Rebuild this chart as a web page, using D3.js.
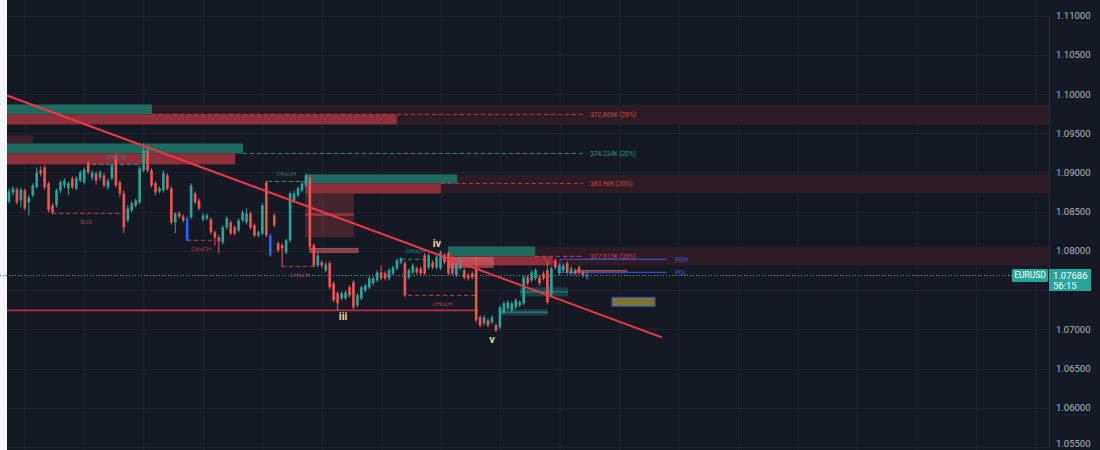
<!DOCTYPE html>
<html><head><meta charset="utf-8">
<script src="https://cdn.jsdelivr.net/npm/d3@7"></script>
<style>html,body{margin:0;padding:0;background:#151924;}svg{display:block;font-family:Roboto,"Noto Sans",sans-serif;}</style>
</head><body>
<svg id="chart" width="1100" height="450"></svg>
<script>
// ---------- DATA ----------
const symbol = "EURUSD";
const lastPrice = 1.07686;
const countdown = "56:15";
const priceTicks = [1.11,1.105,1.10,1.095,1.09,1.085,1.08,1.075,1.07,1.065,1.06,1.055];
const shownTicks = [1.11,1.105,1.10,1.095,1.09,1.085,1.08,1.07,1.065,1.06,1.055];

const open = [1.08631,1.08745,1.08783,1.08643,1.08771,1.08618,1.08707,1.08809,1.09025,1.09064,
1.08860,1.08580,1.08580,1.08771,1.08834,1.08796,1.08924,1.08796,1.08898,1.08873,
1.09115,1.08936,1.08987,1.08936,1.08962,1.08809,1.08924,1.09178,1.08873,1.08732,
1.08388,1.08516,1.08580,1.08618,1.09025,1.09280,1.09025,1.08860,1.08758,1.08771,
1.08962,1.08796,1.08363,1.08478,1.08439,1.08414,1.08427,1.08732,1.08643,1.08401,
1.08414,1.08401,1.08236,1.08172,1.08108,1.08299,1.08363,1.08299,1.08261,1.08388,
1.08363,1.08478,1.08325,1.08197,1.08223,1.08873,1.08197,1.08452,1.08096,1.08070,
1.07981,1.08134,1.08643,1.08707,1.08771,1.08834,1.08924,1.08070,1.07815,1.07853,
1.07752,1.07841,1.07586,1.07459,1.07395,1.07395,1.07535,1.07599,1.07306,1.07395,
1.07497,1.07535,1.07586,1.07624,1.07726,1.07713,1.07650,1.07713,1.07777,1.07853,
1.07841,1.07662,1.07726,1.07777,1.07777,1.07943,1.07790,1.07853,1.07790,1.07777,
1.07943,1.07968,1.07841,1.07688,1.07777,1.07752,1.07688,1.07713,1.07777,1.07153,
1.07077,1.07115,1.07089,1.07051,1.07026,1.07217,1.07268,1.07242,1.07280,1.07306,
1.07331,1.07662,1.07624,1.07650,1.07662,1.07713,1.07752,1.07433,1.07879,1.07713,
1.07752,1.07841,1.07713,1.07752,1.07790,1.07726,1.07675];
const high = [1.08796,1.08822,1.08809,1.08809,1.08796,1.08707,1.08860,1.09064,1.09076,1.09089,
1.08885,1.08605,1.08796,1.08898,1.08924,1.08885,1.08949,1.08949,1.09025,1.09064,
1.09153,1.09025,1.09013,1.09025,1.08987,1.08924,1.09115,1.09242,1.08898,1.08771,
1.08580,1.08631,1.08669,1.09089,1.09369,1.09344,1.09051,1.08885,1.08822,1.09025,
1.08987,1.08822,1.08490,1.08503,1.08465,1.08452,1.08860,1.08758,1.08669,1.08478,
1.08478,1.08427,1.08261,1.08197,1.08325,1.08439,1.08388,1.08325,1.08414,1.08516,
1.08541,1.08503,1.08350,1.08261,1.08605,1.08898,1.08223,1.08478,1.08121,1.08096,
1.08159,1.08758,1.08771,1.08822,1.08885,1.08987,1.08975,1.08096,1.07981,1.07879,
1.07853,1.07866,1.07611,1.07484,1.07484,1.07497,1.07560,1.07624,1.07459,1.07560,
1.07586,1.07675,1.07675,1.07752,1.07815,1.07739,1.07777,1.07815,1.07904,1.07917,
1.07866,1.07777,1.07841,1.07802,1.07802,1.07968,1.07968,1.07879,1.07943,1.08006,
1.07968,1.07994,1.07866,1.07866,1.07904,1.07777,1.07713,1.07739,1.07917,1.07178,
1.07178,1.07140,1.07178,1.07077,1.07306,1.07357,1.07370,1.07357,1.07395,1.07370,
1.07688,1.07688,1.07752,1.07777,1.07688,1.07739,1.07879,1.07802,1.07904,1.07841,
1.07841,1.07866,1.07802,1.07777,1.07815,1.07752,1.07739];
const low = [1.08605,1.08707,1.08592,1.08554,1.08516,1.08452,1.08682,1.08796,1.08949,1.08783,
1.08490,1.08465,1.08554,1.08732,1.08796,1.08707,1.08783,1.08771,1.08873,1.08847,
1.08975,1.08898,1.08847,1.08898,1.08809,1.08783,1.08898,1.08809,1.08682,1.08223,
1.08363,1.08490,1.08554,1.08592,1.09000,1.09000,1.08809,1.08707,1.08732,1.08745,
1.08771,1.08338,1.08223,1.08414,1.08363,1.08121,1.08401,1.08592,1.08516,1.08376,
1.08388,1.08210,1.08070,1.07968,1.08083,1.08274,1.08197,1.08197,1.08236,1.08363,
1.08338,1.08274,1.08172,1.08172,1.08197,1.08172,1.07930,1.08299,1.07981,1.07790,
1.07955,1.08108,1.08618,1.08682,1.08745,1.08809,1.08006,1.07790,1.07790,1.07777,
1.07726,1.07510,1.07344,1.07242,1.07370,1.07370,1.07408,1.07255,1.07280,1.07370,
1.07471,1.07510,1.07560,1.07599,1.07624,1.07624,1.07624,1.07688,1.07752,1.07828,
1.07408,1.07637,1.07701,1.07701,1.07688,1.07688,1.07764,1.07764,1.07764,1.07752,
1.07828,1.07688,1.07688,1.07662,1.07752,1.07637,1.07624,1.07637,1.07089,1.07026,
1.07051,1.07026,1.07064,1.06962,1.07000,1.07191,1.07242,1.07217,1.07255,1.07280,
1.07306,1.07560,1.07599,1.07624,1.07560,1.07624,1.07319,1.07408,1.07764,1.07688,
1.07726,1.07701,1.07688,1.07688,1.07701,1.07662,1.07637];
const close = [1.08758,1.08796,1.08618,1.08783,1.08541,1.08682,1.08834,1.09000,1.08987,1.08809,
1.08516,1.08490,1.08771,1.08873,1.08898,1.08860,1.08809,1.08924,1.09000,1.09038,
1.09000,1.09000,1.08898,1.09000,1.08834,1.08898,1.09089,1.08834,1.08732,1.08299,
1.08541,1.08605,1.08643,1.09051,1.09280,1.09025,1.08834,1.08745,1.08796,1.08987,
1.08796,1.08363,1.08478,1.08439,1.08388,1.08134,1.08834,1.08618,1.08541,1.08452,
1.08452,1.08236,1.08172,1.08121,1.08299,1.08414,1.08223,1.08223,1.08388,1.08490,
1.08478,1.08299,1.08197,1.08236,1.08580,1.08197,1.07943,1.08325,1.08006,1.08032,
1.08134,1.08732,1.08732,1.08796,1.08860,1.08962,1.08045,1.07815,1.07943,1.07815,
1.07828,1.07535,1.07370,1.07331,1.07459,1.07471,1.07433,1.07280,1.07433,1.07535,
1.07560,1.07650,1.07650,1.07726,1.07650,1.07650,1.07752,1.07790,1.07879,1.07904,
1.07433,1.07752,1.07815,1.07726,1.07713,1.07713,1.07943,1.07790,1.07917,1.07981,
1.07853,1.07713,1.07713,1.07841,1.07879,1.07662,1.07650,1.07662,1.07115,1.07051,
1.07153,1.07051,1.07153,1.06987,1.07280,1.07331,1.07344,1.07331,1.07370,1.07344,
1.07662,1.07586,1.07726,1.07752,1.07586,1.07650,1.07344,1.07777,1.07790,1.07815,
1.07815,1.07726,1.07777,1.07713,1.07726,1.07688,1.07686];
const blueCandles = [45, 66];

// liquidity bands to right edge: [startBar, top, bottom]
const bands = [[-0.5,1.09866,1.09611],[109.1,1.08975,1.08732],[132.9,1.08057,1.07815]];
// small dark box
const darkBoxes = [[-0.5,6.1,1.09471,1.09369]];
// bullish blocks [x0, x1, top, bottom]
const bullBlocks = [[-0.5,36.1,1.09866,1.09739],[-0.5,59.1,1.09369,1.09242],[74.8,113.2,1.08975,1.08860],[110.9,132.9,1.08057,1.07930]];
// bearish blocks
const bearBlocks = [[-0.5,98.0,1.09739,1.09611],[-0.5,57.1,1.09242,1.09102],[74.8,109.1,1.08860,1.08732],[110.9,137.4,1.07930,1.07815]];
// volume levels [x0, price, label, side]
const volLevels = [[36.1,1.09739,"372.866K (20%)","bear"],[59.1,1.09242,"374.234K (20%)","bull"],[109.1,1.08860,"383.96K (20%)","bear"],[132.9,1.07930,"377.012K (20%)","bear"]];
const volEnd = 145;
const volLabelBar = 146.8;
// order block with midline [x0,x1,top,bottom,mid]
const orderBlocks = [[74.8,87.1,1.08732,1.08172,1.08465]];
// thin salmon blocks
const thinBlocks = [[76.0,88.2,1.08032,1.07981],[110.9,122.3,1.07917,1.07790],[143.0,156.1,1.07752,1.07726]];
// demand boxes
const demandBoxes = [[129.1,141.2,1.07535,1.07420],[124.0,136.1,1.07255,1.07178]];
// structure breaks [x0,x1,price,label,side,labelAbove]
const structure = [
 [10.9,28.0,1.08478,"BOS","bear",false],
 [21.0,33.1,1.09102,"CHoCH","bull",true],
 [45.0,52.0,1.08134,"CHoCH","bear",false],
 [69.0,78.0,1.07802,"CHoCH","bear",false],
 [65.4,74.8,1.08885,"CHoCH","bull",true],
 [99.0,106.3,1.07892,"CHoCH","bull",true],
 [100.8,118.2,1.07433,"CHoCH","bear",false]
];
const supportLine = [-0.5,118.5,1.07242];
const trendLine = [[-0.5,1.09981],[164.9,1.06898]];
const pdLevels = [["PDH",1.07892],["PDL",1.07726]];
const pdRange = [139.2,166.2];
const targetBox = [152.3,163.2,1.07408,1.07293];
const waveLabels = [["iii",84.4,1.07165],["iv",108.1,1.08096],["v",122.0,1.06873]];

// ---------- DRAW ----------
const W = 1100, H = 450, plotL = 7, plotR = 1049;
const svg = d3.select("#chart");
const n = close.length;
const x = d3.scaleLinear().domain([0, n-1]).range([9, 587]);
const y = d3.scaleLinear().domain([1.055, 1.11]).range([447, 15.5]);

const C = {bg:"#151924", grid:"#1f2330", bull:"#26a69a", bear:"#ef5350", blue:"#2962ff",
  bullBlock:"#1d6b5e", bearBlock:"#8e2f3b", band:"#2e1c25", dark:"#3a1f28",
  bullDash:"#1e8f7c", bearDash:"#c23a48", bullTxt:"#1f9a86", bearTxt:"#d0404e",
  pd:"#3048c8", axisTxt:"#b2b5be"};

svg.append("rect").attr("width",W).attr("height",H).attr("fill",C.bg);
svg.append("rect").attr("x",0).attr("y",0).attr("width",plotL).attr("height",H).attr("fill","#f4f5f7");

// grid
const vgrid = d3.range(0,18).map(k=>25+k*59.47);
svg.append("g").selectAll("line").data(vgrid).join("line")
  .attr("x1",d=>d).attr("x2",d=>d).attr("y1",0).attr("y2",H).attr("stroke",C.grid).attr("stroke-width",1);
svg.append("g").selectAll("line").data(priceTicks).join("line")
  .attr("x1",plotL).attr("x2",plotR).attr("y1",d=>Math.round(y(d))+0.5).attr("y2",d=>Math.round(y(d))+0.5)
  .attr("stroke",C.grid).attr("stroke-width",1);

const gz = svg.append("g");
gz.selectAll(".band").data(bands).join("rect")
  .attr("x",d=>x(d[0])).attr("width",d=>plotR-x(d[0])).attr("y",d=>y(d[1])).attr("height",d=>y(d[2])-y(d[1]))
  .attr("fill",C.band);
gz.selectAll(".dk").data(darkBoxes).join("rect")
  .attr("x",d=>x(d[0])).attr("width",d=>x(d[1])-x(d[0])).attr("y",d=>y(d[2])).attr("height",d=>y(d[3])-y(d[2]))
  .attr("fill",C.dark);
gz.selectAll(".bu").data(bullBlocks).join("rect")
  .attr("x",d=>x(d[0])).attr("width",d=>x(d[1])-x(d[0])).attr("y",d=>y(d[2])).attr("height",d=>y(d[3])-y(d[2]))
  .attr("fill",C.bullBlock);
gz.selectAll(".be").data(bearBlocks).join("rect")
  .attr("x",d=>x(d[0])).attr("width",d=>x(d[1])-x(d[0])).attr("y",d=>y(d[2])).attr("height",d=>y(d[3])-y(d[2]))
  .attr("fill",C.bearBlock);
orderBlocks.forEach(d=>{
  gz.append("rect").attr("x",x(d[0])).attr("width",x(d[1])-x(d[0])).attr("y",y(d[2])).attr("height",y(d[3])-y(d[2]))
    .attr("fill","#ef5350").attr("fill-opacity",0.22);
  gz.append("rect").attr("x",x(d[0])).attr("width",x(d[1])-x(d[0])).attr("y",y(d[4])-1).attr("height",2.5)
    .attr("fill","#ef5350").attr("fill-opacity",0.45);
});
gz.selectAll(".tb").data(thinBlocks).join("rect")
  .attr("x",d=>x(d[0])).attr("width",d=>x(d[1])-x(d[0])).attr("y",d=>y(d[2])).attr("height",d=>Math.max(2.5,y(d[3])-y(d[2])))
  .attr("fill","#f06a6a").attr("fill-opacity",0.5).attr("stroke","#f06a6a").attr("stroke-opacity",0.6).attr("stroke-width",0.8);
gz.selectAll(".dm").data(demandBoxes).join("rect")
  .attr("x",d=>x(d[0])).attr("width",d=>x(d[1])-x(d[0])).attr("y",d=>y(d[2])).attr("height",d=>y(d[3])-y(d[2]))
  .attr("fill","#26a69a").attr("fill-opacity",0.28);
demandBoxes.forEach(d=>{
  gz.append("line").attr("x1",x(d[0])).attr("x2",x(d[1])).attr("y1",(y(d[2])+y(d[3]))/2).attr("y2",(y(d[2])+y(d[3]))/2)
    .attr("stroke","#26a69a").attr("stroke-opacity",0.5).attr("stroke-width",1.5);
});

volLevels.forEach(d=>{
  const col = d[3]==="bull"?C.bullDash:C.bearDash;
  gz.append("line").attr("x1",x(d[0])).attr("x2",x(volEnd)).attr("y1",y(d[1])).attr("y2",y(d[1]))
    .attr("stroke",col).attr("stroke-width",1).attr("stroke-dasharray","4,3");
  gz.append("text").attr("x",x(volLabelBar)).attr("y",y(d[1])).attr("dy","0.35em")
    .attr("font-size",6.5).attr("fill",d[3]==="bull"?C.bullTxt:C.bearTxt).text(d[2]);
});

structure.forEach(d=>{
  const col = d[4]==="bull"?C.bullDash:C.bearDash;
  gz.append("line").attr("x1",x(d[0])).attr("x2",x(d[1])).attr("y1",y(d[2])).attr("y2",y(d[2]))
    .attr("stroke",col).attr("stroke-width",1).attr("stroke-dasharray","4,3");
  gz.append("text").attr("x",(x(d[0])+x(d[1]))/2).attr("y",y(d[2])+(d[5]?-8:9)).attr("dy","0.35em")
    .attr("text-anchor","middle").attr("font-size",6).attr("fill",d[4]==="bull"?C.bullTxt:C.bearTxt).attr("fill-opacity",0.85).text(d[3]);
});

gz.append("line").attr("x1",x(supportLine[0])).attr("x2",x(supportLine[1])).attr("y1",y(supportLine[2])).attr("y2",y(supportLine[2]))
  .attr("stroke","#b8303f").attr("stroke-width",1.6);

gz.append("line").attr("x1",0).attr("x2",plotR).attr("y1",y(lastPrice)).attr("y2",y(lastPrice))
  .attr("stroke",C.bull).attr("stroke-width",1).attr("stroke-dasharray","1,2");

const pdG = svg.append("g");
pdLevels.forEach(d=>{
  pdG.append("line").attr("x1",x(pdRange[0])).attr("x2",x(pdRange[1])).attr("y1",y(d[1])).attr("y2",y(d[1]))
    .attr("stroke",C.pd).attr("stroke-width",1.2);
  pdG.append("text").attr("x",x(pdRange[1])+8).attr("y",y(d[1])).attr("dy","0.35em")
    .attr("font-size",6.5).attr("fill","#3a55e0").text(d[0]);
});
pdG.append("line").attr("x1",x(pdRange[0])).attr("x2",x(pdRange[0])).attr("y1",y(pdLevels[0][1])).attr("y2",y(pdLevels[1][1]))
  .attr("stroke",C.pd).attr("stroke-width",1);

svg.append("rect").attr("x",x(targetBox[0])).attr("width",x(targetBox[1])-x(targetBox[0]))
  .attr("y",y(targetBox[2])).attr("height",y(targetBox[3])-y(targetBox[2]))
  .attr("fill","#7d7430").attr("stroke","#2d4bd0").attr("stroke-width",1);

const cg = svg.append("g");
const bw = 2.6;
d3.range(n).forEach(i=>{
  const col = blueCandles.includes(i)?C.blue:(close[i]>=open[i]?C.bull:C.bear);
  cg.append("line").attr("x1",x(i)).attr("x2",x(i)).attr("y1",y(high[i])).attr("y2",y(low[i]))
    .attr("stroke",col).attr("stroke-width",1);
  const t = Math.min(y(open[i]),y(close[i])), b = Math.max(y(open[i]),y(close[i]));
  cg.append("rect").attr("x",x(i)-bw/2).attr("width",bw).attr("y",t).attr("height",Math.max(1,b-t)).attr("fill",col);
});

svg.append("line").attr("x1",x(trendLine[0][0])).attr("y1",y(trendLine[0][1]))
  .attr("x2",x(trendLine[1][0])).attr("y2",y(trendLine[1][1]))
  .attr("stroke","#f23645").attr("stroke-width",2);

svg.append("g").selectAll("text").data(waveLabels).join("text")
  .attr("x",d=>x(d[1])).attr("y",d=>y(d[2])).attr("dy","0.35em").attr("text-anchor","middle")
  .attr("font-size",11).attr("font-weight","bold").attr("fill","#e0d295").text(d=>d[0]);

const ax = svg.append("g").attr("transform",`translate(${plotR},0)`)
  .call(d3.axisRight(y).tickValues(shownTicks).tickFormat(d3.format(".5f")).tickSize(0).tickPadding(7));
ax.select(".domain").attr("stroke","#2a2e39");
ax.selectAll("text").attr("fill",C.axisTxt).attr("font-size",9.5).attr("font-family","Roboto,sans-serif");
// keep lowest label fully inside the frame
ax.selectAll(".tick").filter(d=>d===1.055).select("text").attr("dy","-0.05em");

const py = y(lastPrice);
svg.append("rect").attr("x",1012).attr("y",py-6.5).attr("width",36).attr("height",13).attr("fill",C.bull).attr("rx",1);
svg.append("text").attr("x",1030).attr("y",py).attr("dy","0.35em").attr("text-anchor","middle")
  .attr("font-size",8.5).attr("fill","#ffffff").text(symbol);
svg.append("rect").attr("x",plotR).attr("y",py-6.5).attr("width",42).attr("height",22).attr("fill",C.bull);
svg.append("text").attr("x",plotR+4).attr("y",py).attr("dy","0.35em").attr("font-size",9.5).attr("fill","#ffffff").text(d3.format(".5f")(lastPrice));
svg.append("text").attr("x",plotR+4).attr("y",py+10).attr("dy","0.35em").attr("font-size",9.5).attr("fill","#ffffff").text(countdown);
</script>
</body></html>
